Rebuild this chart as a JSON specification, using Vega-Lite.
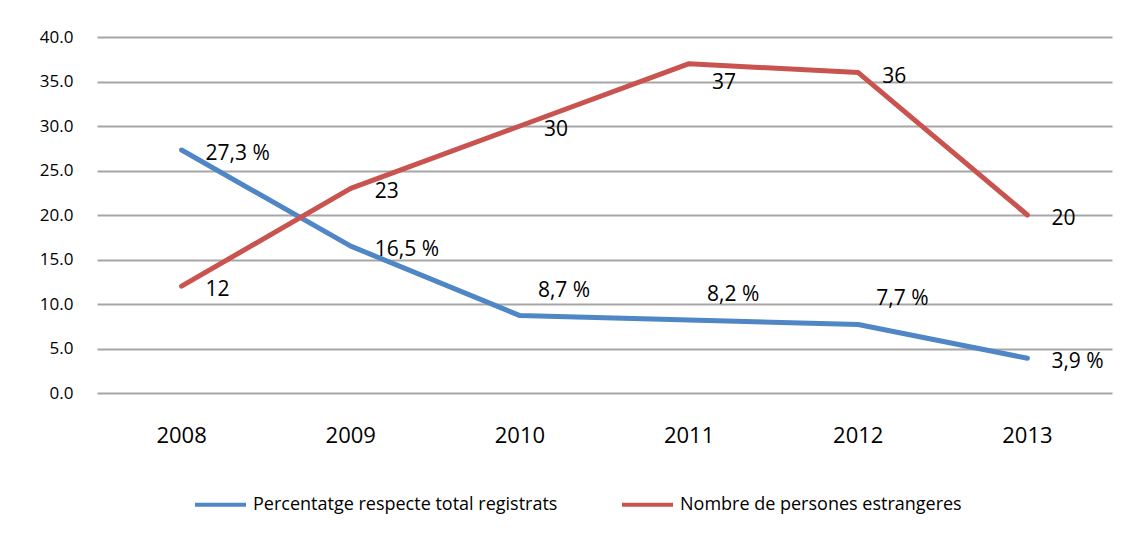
{
  "$schema": "https://vega.github.io/schema/vega-lite/v6.json",
  "width": 1015,
  "height": 356,
  "autosize": {"type": "none"},
  "padding": {"left": 97, "top": 37, "right": 20, "bottom": 140},
  "background": "white",
  "config": {
    "view": {"stroke": null},
    "font": "Open Sans",
    "axis": {"labelFont": "Open Sans", "labelColor": "#000000"},
    "legend": {"labelFont": "Open Sans"}
  },
  "data": {
    "values": [
      {"year": "2008", "series": "Percentatge respecte total registrats", "value": 27.3, "label": "27,3 %", "pos": "below"},
      {"year": "2009", "series": "Percentatge respecte total registrats", "value": 16.5, "label": "16,5 %", "pos": "below"},
      {"year": "2010", "series": "Percentatge respecte total registrats", "value": 8.7, "label": "8,7 %", "pos": "above"},
      {"year": "2011", "series": "Percentatge respecte total registrats", "value": 8.2, "label": "8,2 %", "pos": "above"},
      {"year": "2012", "series": "Percentatge respecte total registrats", "value": 7.7, "label": "7,7 %", "pos": "above"},
      {"year": "2013", "series": "Percentatge respecte total registrats", "value": 3.9, "label": "3,9 %", "pos": "below"},
      {"year": "2008", "series": "Nombre de persones estrangeres", "value": 12, "label": "12", "pos": "below"},
      {"year": "2009", "series": "Nombre de persones estrangeres", "value": 23, "label": "23", "pos": "below"},
      {"year": "2010", "series": "Nombre de persones estrangeres", "value": 30, "label": "30", "pos": "below"},
      {"year": "2011", "series": "Nombre de persones estrangeres", "value": 37, "label": "37", "pos": "farbelow"},
      {"year": "2012", "series": "Nombre de persones estrangeres", "value": 36, "label": "36", "pos": "below"},
      {"year": "2013", "series": "Nombre de persones estrangeres", "value": 20, "label": "20", "pos": "below"}
    ]
  },
  "encoding": {
    "x": {
      "field": "year", "type": "ordinal",
      "scale": {"type": "band", "paddingInner": 0, "paddingOuter": 0},
      "axis": {"title": null, "labelAngle": 0, "domain": false, "ticks": false, "labelFontSize": 22, "labelPadding": 32, "grid": false}
    },
    "y": {
      "field": "value", "type": "quantitative",
      "scale": {"domain": [0, 40], "nice": false},
      "axis": {"title": null, "values": [0, 5, 10, 15, 20, 25, 30, 35, 40], "format": ".1f", "domain": false, "ticks": false, "labelFontSize": 17, "labelPadding": 24, "gridColor": "#a6a6a6", "gridWidth": 2}
    }
  },
  "layer": [
    {
      "mark": {"type": "line", "strokeWidth": 5, "strokeJoin": "round", "strokeCap": "round"},
      "encoding": {
        "color": {
          "field": "series", "type": "nominal",
          "scale": {"domain": ["Percentatge respecte total registrats", "Nombre de persones estrangeres"], "range": ["#4F86C6", "#C9534F"]},
          "legend": {"title": null, "orient": "none", "direction": "horizontal", "legendX": 96, "legendY": 440, "symbolType": "stroke", "symbolSize": 2600, "symbolStrokeWidth": 4, "labelFontSize": 18, "labelLimit": 0, "labelColor": "#000000", "columnPadding": 56, "labelOffset": 5}
        }
      }
    },
    {
      "transform": [{"filter": "datum.pos === 'below'"}],
      "mark": {"type": "text", "align": "left", "baseline": "middle", "dx": 24, "dy": 4, "fontSize": 21, "color": "#000000"},
      "encoding": {"text": {"field": "label"}}
    },
    {
      "transform": [{"filter": "datum.pos === 'above'"}],
      "mark": {"type": "text", "align": "left", "baseline": "middle", "dx": 18, "dy": -25, "fontSize": 21, "color": "#000000"},
      "encoding": {"text": {"field": "label"}}
    },
    {
      "transform": [{"filter": "datum.pos === 'farbelow'"}],
      "mark": {"type": "text", "align": "left", "baseline": "middle", "dx": 23, "dy": 19, "fontSize": 21, "color": "#000000"},
      "encoding": {"text": {"field": "label"}}
    }
  ]
}
